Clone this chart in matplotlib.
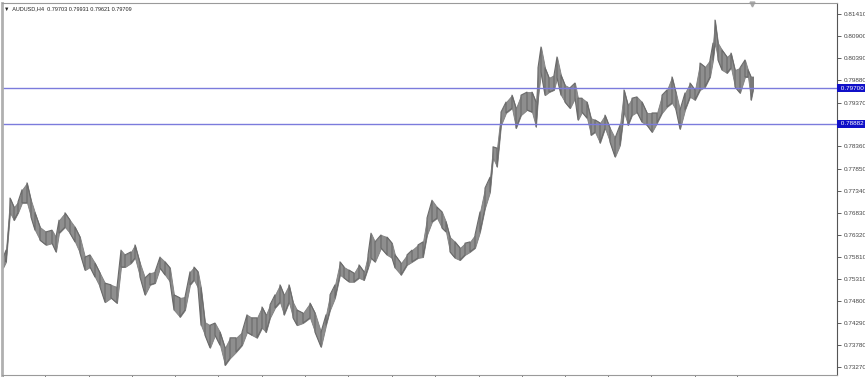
import numpy as np
import matplotlib
matplotlib.use("Agg")
from matplotlib import pyplot as plt
from matplotlib import transforms

# bar position (time axis) and high / low price per sampled group of H4 bars
bar_pos = [3, 6, 10, 14, 18, 22, 27, 31, 35, 40, 46, 52, 56, 59, 65, 70, 75, 80, 85, 90,
           95, 100, 105, 111, 117, 121, 125, 131, 135, 140, 145, 150, 155, 160, 165, 170, 174, 180, 185, 190,
           194, 198, 201, 205, 210, 215, 220, 225, 230, 236, 242, 247, 252, 257, 262, 266, 270, 275, 280, 284,
           289, 293, 297, 303, 310, 315, 321, 326, 330, 335, 340, 344, 349, 354, 359, 364, 368, 371, 375, 381,
           387, 392, 395, 401, 407, 412, 418, 423, 427, 432, 437, 442, 446, 450, 455, 460, 465, 470, 475, 480,
           485, 490, 493, 497, 501, 506, 512, 516, 521, 527, 532, 536, 538, 541, 545, 549, 554, 557, 561, 565,
           570, 575, 578, 582, 587, 591, 595, 600, 605, 610, 615, 620, 624, 628, 632, 637, 642, 647, 652, 657,
           662, 667, 672, 676, 680, 685, 690, 695, 700, 705, 710, 713, 715, 718, 722, 727, 731, 735, 740, 745,
           748, 751, 753]
highs = [0.7579, 0.7597, 0.7717, 0.7696, 0.7708, 0.7736, 0.7752, 0.7712, 0.7683, 0.7650,
         0.7639, 0.7643, 0.7627, 0.7666, 0.7683, 0.7666, 0.7650, 0.7627, 0.7581, 0.7586,
         0.7567, 0.7544, 0.7521, 0.7517, 0.7512, 0.7597, 0.7586, 0.7593, 0.7609, 0.7567,
         0.7533, 0.7544, 0.7547, 0.7581, 0.7570, 0.7556, 0.7494, 0.7487, 0.7489, 0.7547,
         0.7558, 0.7547, 0.7510, 0.7431, 0.7424, 0.7429, 0.7408, 0.7372, 0.7395, 0.7395,
         0.7408, 0.7448, 0.7441, 0.7441, 0.7466, 0.7448, 0.7471, 0.7494, 0.7517, 0.7494,
         0.7517, 0.7477, 0.7459, 0.7452, 0.7475, 0.7452, 0.7408, 0.7448, 0.7494, 0.7517,
         0.7570, 0.7558, 0.7551, 0.7544, 0.7563, 0.7547, 0.7586, 0.7636, 0.7616, 0.7632,
         0.7627, 0.7613, 0.7586, 0.7567, 0.7586, 0.7597, 0.7609, 0.7616, 0.7671, 0.7712,
         0.7696, 0.7685, 0.7662, 0.7627, 0.7616, 0.7602, 0.7613, 0.7616, 0.7632, 0.7685,
         0.7740, 0.7765, 0.7835, 0.7832, 0.7915, 0.7938, 0.7954, 0.7924, 0.7954, 0.7961,
         0.7961, 0.7938, 0.8017, 0.8065, 0.8017, 0.7994, 0.8000, 0.8042, 0.8000, 0.7977,
         0.7971, 0.7982, 0.7947, 0.7947, 0.7938, 0.7901, 0.7897, 0.7890, 0.7908, 0.7878,
         0.7855, 0.7885, 0.7966, 0.7931, 0.7947, 0.7950, 0.7938, 0.7913, 0.7913, 0.7913,
         0.7954, 0.7966, 0.7996, 0.7959, 0.7920, 0.7959, 0.7982, 0.7966, 0.8028, 0.8019,
         0.8035, 0.8074, 0.8127, 0.8074, 0.8058, 0.8042, 0.8051, 0.8012, 0.8017, 0.8035,
         0.8012, 0.7996, 0.7996]
lows = [0.7556, 0.7570, 0.7683, 0.7666, 0.7683, 0.7706, 0.7706, 0.7673, 0.7643, 0.7620,
        0.7609, 0.7613, 0.7593, 0.7636, 0.7650, 0.7636, 0.7616, 0.7590, 0.7551, 0.7558,
        0.7535, 0.7512, 0.7477, 0.7487, 0.7475, 0.7558, 0.7558, 0.7567, 0.7579, 0.7535,
        0.7494, 0.7517, 0.7521, 0.7556, 0.7540, 0.7524, 0.7459, 0.7443, 0.7459, 0.7517,
        0.7528, 0.7510, 0.7424, 0.7401, 0.7372, 0.7401, 0.7378, 0.7332, 0.7348, 0.7362,
        0.7378, 0.7408, 0.7401, 0.7395, 0.7418, 0.7408, 0.7441, 0.7464, 0.7477, 0.7448,
        0.7477, 0.7441, 0.7424, 0.7429, 0.7441, 0.7408, 0.7374, 0.7424, 0.7459, 0.7487,
        0.7540, 0.7533, 0.7524, 0.7524, 0.7533, 0.7528, 0.7556, 0.7579, 0.7570, 0.7602,
        0.7586, 0.7579, 0.7556, 0.7540, 0.7563, 0.7570, 0.7579, 0.7581, 0.7632, 0.7662,
        0.7671, 0.7648, 0.7639, 0.7593, 0.7579, 0.7574, 0.7586, 0.7593, 0.7602, 0.7639,
        0.7694, 0.7731, 0.7809, 0.7789, 0.7885, 0.7913, 0.7924, 0.7878, 0.7908, 0.7920,
        0.7915, 0.7881, 0.7947, 0.8007, 0.7954, 0.7961, 0.7966, 0.7994, 0.7954, 0.7938,
        0.7924, 0.7947, 0.7897, 0.7915, 0.7901, 0.7862, 0.7869, 0.7844, 0.7878, 0.7846,
        0.7812, 0.7839, 0.7915, 0.7885, 0.7908, 0.7915, 0.7892, 0.7885, 0.7869, 0.7890,
        0.7913, 0.7927, 0.7936, 0.7920, 0.7876, 0.7920, 0.7950, 0.7943, 0.7966, 0.7973,
        0.7996, 0.8035, 0.8074, 0.8035, 0.8012, 0.8005, 0.8017, 0.7973, 0.7959, 0.7996,
        0.7996, 0.7943, 0.7966]

price_ticks = [0.81410, 0.80900, 0.80390, 0.79880, 0.79370, 0.78360, 0.77850, 0.77340,
               0.76830, 0.76320, 0.75810, 0.75310, 0.74800, 0.74290, 0.73780, 0.73270]
time_ticks = [3, 45, 89, 132, 175, 218, 262, 305, 348, 392, 435, 479, 522, 565, 608, 651, 695, 737]
level_lines = [0.79700, 0.78882]
header = "AUDUSD,H4  0.79703 0.79931 0.79621 0.79709"

plt.rcParams['font.family'] = ['Liberation Sans', 'DejaVu Sans']

W, H = 865, 377
fig = plt.figure(figsize=(W / 100, H / 100), dpi=100)
ax = fig.add_axes([2 / W, 2 / H, 835 / W, 372 / H])
ax.set_xlim(2, 837)
ax.set_ylim(0.73093, 0.81663)

x = np.array(bar_pos, dtype=float)
hi = np.array(highs)
lo = np.array(lows)

# dense OHLC bars: high/low band with a darker zigzag through it
ax.fill_between(x, lo, hi, color="#8e8e8e", lw=0.6, edgecolor="#808080")
xs = np.repeat(x, 2)
ys = np.empty(2 * len(x))
for i in range(len(x)):
    if i % 2 == 0:
        ys[2 * i], ys[2 * i + 1] = lo[i], hi[i]
    else:
        ys[2 * i], ys[2 * i + 1] = hi[i], lo[i]
ax.plot(xs, ys, color="#6a6a6a", lw=0.8)

for lv in level_lines:
    ax.axhline(lv, color="#7b7bdc", lw=1.0)

# right price scale
ax.yaxis.tick_right()
ax.set_yticks(price_ticks)
ax.set_yticklabels(["%.5f" % v for v in price_ticks])
ax.tick_params(axis="y", direction="out", length=3, width=0.6, colors="#444444",
               labelsize=4.6, pad=1.5)
ax.set_xticks(time_ticks)
ax.set_xticklabels([])
ax.tick_params(axis="x", direction="out", length=3, width=0.6, colors="#666666")

trans = transforms.blended_transform_factory(ax.transAxes, ax.transData)
for lv in level_lines:
    ax.text(1.002, lv, " %.5f " % lv, transform=trans, fontsize=4.6, color="white",
            va="center", ha="left",
            bbox=dict(boxstyle="square,pad=0.25", fc="#1010c8", ec="none"))

for side in ["top", "bottom"]:
    ax.spines[side].set_color("#9a9a9a")
    ax.spines[side].set_linewidth(0.8)
ax.spines["right"].set_color("#555555")
ax.spines["right"].set_linewidth(0.8)
ax.spines["left"].set_color("#b0b0b0")
ax.spines["left"].set_linewidth(2.0)

ax.text(0.002, 0.99, "\u25bc  " + header, transform=ax.transAxes, fontsize=4.0,
        color="#222222", va="top", ha="left")
# chart shift marker
ax.plot([752], [0.8163], marker="v", ms=3.5, color="#a8a8a8", clip_on=False)

fig.savefig("out.png", dpi=100)
